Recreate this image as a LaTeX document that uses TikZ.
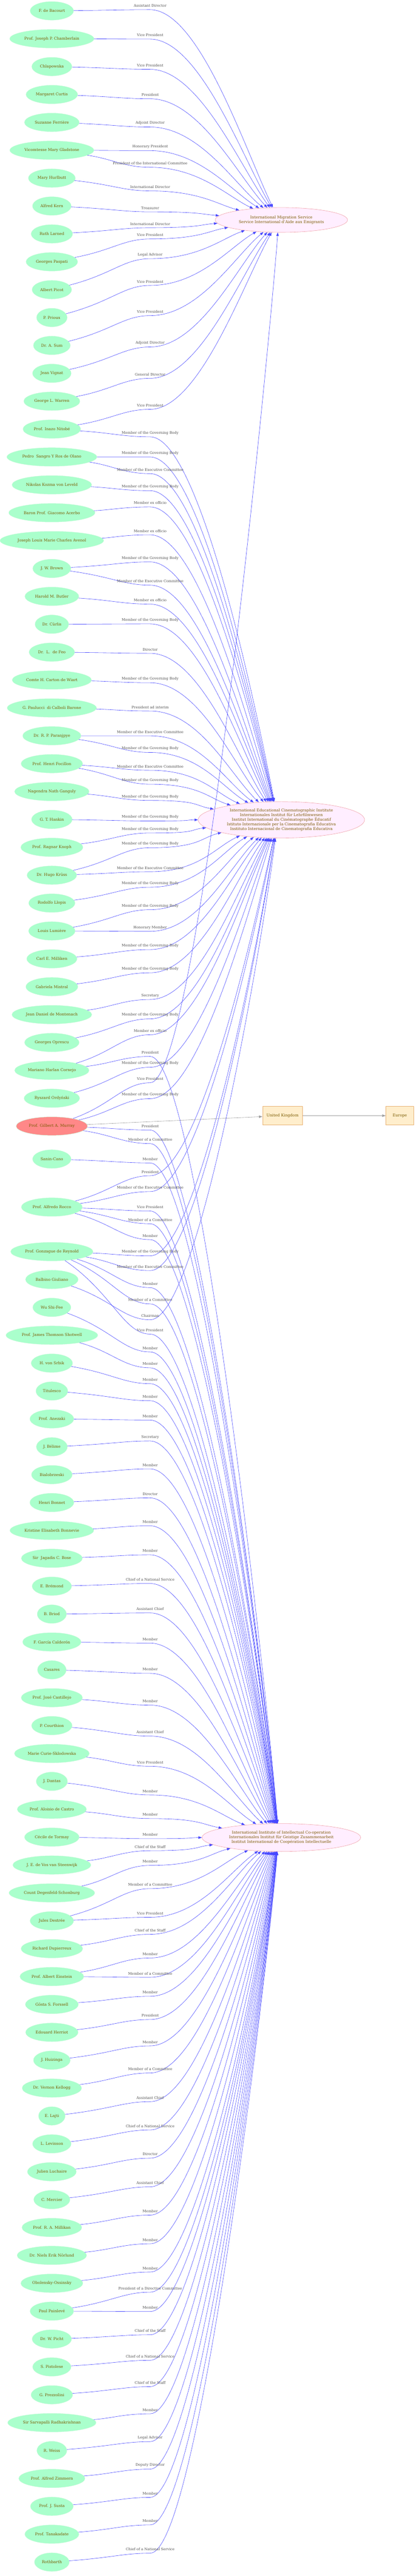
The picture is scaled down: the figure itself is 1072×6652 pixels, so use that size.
\documentclass[tikz,border=0pt]{standalone}
\usepackage{fontspec}
\setmainfont{DejaVu Serif}
\usetikzlibrary{arrows.meta,calc,shapes.geometric}
\definecolor{nodefill}{HTML}{AAFFCC}
\definecolor{nodeline}{HTML}{C4FAD8}
\definecolor{txt}{HTML}{7A5A00}
\definecolor{murr}{HTML}{FF8888}
\definecolor{tfill}{HTML}{FFEEFF}
\definecolor{tline}{HTML}{F0A0A8}
\definecolor{eblue}{HTML}{4848FF}
\definecolor{lblc}{HTML}{505050}
\definecolor{bfill}{HTML}{FFEECC}
\definecolor{bline}{HTML}{E8B070}
\tikzset{
 person/.style={ellipse, fill=nodefill, draw=nodeline, line width=0.6pt, text=txt,
   font=\fontsize{10}{12}\selectfont, inner xsep=6pt, inner ysep=2pt, minimum height=48pt},
 redp/.style={person, fill=murr},
 org/.style={ellipse, fill=tfill, draw=tline, line width=0.8pt, text=txt,
   font=\fontsize{10}{12}\selectfont, align=center, inner sep=0pt},
 place/.style={rectangle, fill=bfill, draw=bline, line width=0.9pt, text=txt,
   font=\fontsize{10}{12}\selectfont, minimum height=48pt, minimum width=72pt, inner xsep=10pt},
 relline/.style={draw=eblue, line width=0.8pt, -{Triangle[length=9pt,width=6.5pt]}},
 greyrel/.style={draw=gray!75, line width=0.8pt, -{Triangle[length=9pt,width=6.5pt]}},
 lbl/.style={text=lblc, font=\fontsize{9.2}{11}\selectfont, inner sep=0pt}
}
\newcommand\lMGB{Member of the Governing Body}
\newcommand\lMEC{Member of the Executive Committee}
\newcommand\lMEO{Member ex officio}
\newcommand\lMoaC{Member of a Committee}
\newcommand\lCNS{Chief of a National Service}
% #1 src, #2 src y, #3 label y, #4 target, #5 target y, #6 text
\newcommand\myrel[6]{%
  \pgfmathsetmacro\rWY{#3+10}%
  \pgfmathsetmacro\rMY{(#2+\rWY)/2}%
  \pgfmathsetmacro\rDY{\rWY-#5}%
  \pgfmathsetmacro\rFF{75*(1-exp(-abs(\rDY)/400))}%
  \pgfmathtruncatemacro\rANG{\rDY<0 ? 180-\rFF : 180+\rFF}%
  \pgfmathsetmacro\rANGB{\rDY<0 ? 180-1.15*\rFF : 180+1.15*\rFF}%
  \pgfmathsetmacro\rLL{min(260,40+0.22*abs(\rDY))}%
  \draw[relline] (#1) .. controls (290,\rMY) and (320,\rWY) .. (388,\rWY)
     .. controls (515,\rWY) and ($(#4.\rANG)+(\rANGB:\rLL pt)$) .. (#4.\rANG);
  \node[lbl] at (388,#3) {#6};
}
\begin{document}
\begin{tikzpicture}[x=1pt,y=-1pt]
\useasboundingbox (0,0) rectangle (1072,6652);
% targets
\node[org, minimum width=342pt, minimum height=64pt] (t1) at (727,568) {International Migration Service\\Service International d'Aide aux Emigrants};
\node[org, minimum width=430pt, minimum height=94pt] (t2) at (727,2117) {International Educational Cinematographic Institute\\Internationales Institut für Lehrfilmwesen\\Institut International du Cinématographe Éducatif\\Istituto Internazionale per la Cinematografia Educativa\\Instituto Internacional de Cinematografia Educativa};
\node[org, minimum width=410pt, minimum height=72pt] (t3) at (727,4745) {International Institute of Intellectual Co-operation\\Internationales Institut für Geistige Zusammenarbeit\\Institut International de Coopération Intellectuelle};
\node[place] (un) at (730,2881) {United Kingdom};
\node[place] (eu) at (1033,2881) {Europe};
% persons
\node[person] (n1) at (134,28) {F. de Bacourt};
\node[person] (n2) at (134,100) {Prof. Joseph P. Chamberlain};
\node[person] (n3) at (134,172) {Chlapowska};
\node[person] (n4) at (134,244) {Margaret Curtis};
\node[person] (n5) at (134,316) {Suzanne Ferrière};
\node[person] (n6) at (134,388) {Vicomtesse Mary Gladstone};
\node[person] (n7) at (134,460) {Mary Hurlbutt};
\node[person] (n8) at (134,532) {Alfred Kern};
\node[person] (n9) at (134,604) {Ruth Larned};
\node[person] (n10) at (134,676) {Georges Paspati};
\node[person] (n11) at (134,748) {Albert Picot};
\node[person] (n12) at (134,820) {P. Prioux};
\node[person] (n13) at (134,892) {Dr. A. Sum};
\node[person] (n14) at (134,964) {Jean Vignat};
\node[person] (n15) at (134,1036) {George L. Warren};
\node[person] (n16) at (134,1108) {Prof. Inazo Nitobé};
\node[person] (n17) at (134,1180) {Pedro\ \ Sangro Y Ros de Olano};
\node[person] (n18) at (134,1252) {Nikolas Kozma von Leveld};
\node[person] (n19) at (134,1324) {Baron Prof. Giacomo Acerbo};
\node[person] (n20) at (134,1396) {Joseph Louis Marie Charles Avenol};
\node[person] (n21) at (134,1468) {J. W. Brown};
\node[person] (n22) at (134,1540) {Harold M. Butler};
\node[person] (n23) at (134,1612) {Dr. Cürlis};
\node[person] (n24) at (134,1684) {Dr.\ \ L.\ \ de Feo};
\node[person] (n25) at (134,1756) {Comte H. Carton de Wiart};
\node[person] (n26) at (134,1828) {G. Paulucci\ \ di Calboli Barone};
\node[person] (n27) at (134,1900) {Dr. R. P. Paranjpye};
\node[person] (n28) at (134,1972) {Prof. Henri Focillon};
\node[person] (n29) at (134,2044) {Nagendra Nath Ganguly};
\node[person] (n30) at (134,2116) {G. T. Hankin};
\node[person] (n31) at (134,2188) {Prof. Ragnar Knoph};
\node[person] (n32) at (134,2260) {Dr. Hugo Krüss};
\node[person] (n33) at (134,2332) {Rodolfo Llopis};
\node[person] (n34) at (134,2404) {Louis Lumière};
\node[person] (n35) at (134,2476) {Carl E. Milliken};
\node[person] (n36) at (134,2548) {Gabriela Mistral};
\node[person] (n37) at (134,2620) {Jean Daniel de Montenach};
\node[person] (n38) at (134,2692) {Georges Oprescu};
\node[person] (n39) at (134,2764) {Mariano Harlan Cornejo};
\node[person] (n40) at (134,2836) {Ryszard Ordyński};
\node[redp] (n41) at (134,2908) {Prof. Gilbert A. Murray};
\node[person] (n42) at (134,2993) {Sanin-Cano};
\node[person] (n43) at (134,3117) {Prof. Alfredo Rocco};
\node[person] (n44) at (134,3232) {Prof. Gonzague de Reynold};
\node[person] (n45) at (134,3304) {Balbino Giuliano};
\node[person] (n46) at (134,3376) {Wu Shi-Fee};
\node[person] (n47) at (134,3448) {Prof. James Thomson Shotwell};
\node[person] (n48) at (134,3520) {H. von Srbik};
\node[person] (n49) at (134,3592) {Titulesco};
\node[person] (n50) at (134,3664) {Prof. Anezaki};
\node[person] (n51) at (134,3736) {J. Bélime};
\node[person] (n52) at (134,3808) {Bialobrzeski};
\node[person] (n53) at (134,3880) {Henri Bonnet};
\node[person] (n54) at (134,3952) {Kristine Elisabeth Bonnevie};
\node[person] (n55) at (134,4024) {Sir\ \ Jagadis C. Bose};
\node[person] (n56) at (134,4096) {E. Brémond};
\node[person] (n57) at (134,4168) {B. Briod};
\node[person] (n58) at (134,4240) {F. García Calderón};
\node[person] (n59) at (134,4312) {Casares};
\node[person] (n60) at (134,4384) {Prof. José Castillejo};
\node[person] (n61) at (134,4456) {P. Courthion};
\node[person] (n62) at (134,4528) {Marie Curie-Sklodowska};
\node[person] (n63) at (134,4600) {J. Dantas};
\node[person] (n64) at (134,4672) {Prof. Aloisio de Castro};
\node[person] (n65) at (134,4744) {Cécile de Tormay};
\node[person] (n66) at (134,4816) {J. E. de Vos van Steenwijk};
\node[person] (n67) at (134,4888) {Count Degenfeld-Schonburg};
\node[person] (n68) at (134,4960) {Jules Destrée};
\node[person] (n69) at (134,5032) {Richard Dupierreux};
\node[person] (n70) at (134,5104) {Prof. Albert Einstein};
\node[person] (n71) at (134,5176) {Gösta S. Forssell};
\node[person] (n72) at (134,5248) {Edouard Herriot};
\node[person] (n73) at (134,5320) {J. Huizinga};
\node[person] (n74) at (134,5392) {Dr. Vernon Kellogg};
\node[person] (n75) at (134,5464) {E. Lajti};
\node[person] (n76) at (134,5536) {L. Levinson};
\node[person] (n77) at (134,5608) {Julien Luchaire};
\node[person] (n78) at (134,5680) {C. Mercier};
\node[person] (n79) at (134,5752) {Prof. R. A. Millikan};
\node[person] (n80) at (134,5824) {Dr. Niels Erik Nörlund};
\node[person] (n81) at (134,5896) {Obolensky-Ossinsky};
\node[person] (n82) at (134,5968) {Paul Painlevé};
\node[person] (n83) at (134,6040) {Dr. W. Picht};
\node[person] (n84) at (134,6112) {S. Pistolese};
\node[person] (n85) at (134,6184) {G. Prezzolini};
\node[person] (n86) at (134,6256) {Sir Sarvapalli Radhakrishnan};
\node[person] (n87) at (134,6328) {R. Weiss};
\node[person] (n88) at (134,6400) {Prof. Alfred Zimmern};
\node[person] (n89) at (134,6472) {Prof. J. Susta};
\node[person] (n90) at (134,6544) {Prof. Tanakadate};
\node[person] (n91) at (134,6616) {Rothbarth};
% grey edges
\draw[greyrel] (n41) -- (un);
\draw[greyrel] (un) -- (eu);
% relations
\myrel{n1}{28}{15}{t1}{568}{Assistant Director}
\myrel{n2}{100}{91}{t1}{568}{Vice President}
\myrel{n3}{172}{169}{t1}{568}{Vice President}
\myrel{n4}{244}{245}{t1}{568}{President}
\myrel{n5}{316}{318}{t1}{568}{Adjoint Director}
\myrel{n6}{388}{379}{t1}{568}{Honorary President}
\myrel{n6}{388}{422}{t1}{568}{President of the International Committee}
\myrel{n7}{460}{483}{t1}{568}{International Director}
\myrel{n8}{532}{537}{t1}{568}{Treasurer}
\myrel{n9}{604}{578}{t1}{568}{International Director}
\myrel{n10}{676}{607}{t1}{568}{Vice President}
\myrel{n11}{748}{658}{t1}{568}{Legal Advisor}
\myrel{n12}{820}{727}{t1}{568}{Vice President}
\myrel{n13}{892}{805}{t1}{568}{Vice President}
\myrel{n14}{964}{886}{t1}{568}{Adjoint Director}
\myrel{n15}{1036}{967}{t1}{568}{General Director}
\myrel{n16}{1108}{1047}{t1}{568}{Vice President}
\myrel{n16}{1108}{1118}{t2}{2117}{\lMGB}
\myrel{n17}{1180}{1170}{t2}{2117}{\lMGB}
\myrel{n17}{1180}{1213}{t2}{2117}{\lMEC}
\myrel{n18}{1252}{1257}{t2}{2117}{\lMGB}
\myrel{n19}{1324}{1299}{t2}{2117}{\lMEO}
\myrel{n20}{1396}{1371}{t2}{2117}{\lMEO}
\myrel{n21}{1468}{1441}{t2}{2117}{\lMGB}
\myrel{n21}{1468}{1501}{t2}{2117}{\lMEC}
\myrel{n22}{1540}{1550}{t2}{2117}{\lMEO}
\myrel{n23}{1612}{1601}{t2}{2117}{\lMGB}
\myrel{n24}{1684}{1677}{t2}{2117}{Director}
\myrel{n25}{1756}{1753}{t2}{2117}{\lMGB}
\myrel{n26}{1828}{1826}{t2}{2117}{President ad interim}
\myrel{n27}{1900}{1890}{t2}{2117}{\lMEC}
\myrel{n27}{1900}{1933}{t2}{2117}{\lMGB}
\myrel{n28}{1972}{1979}{t2}{2117}{\lMEC}
\myrel{n28}{1972}{2015}{t2}{2117}{\lMGB}
\myrel{n29}{2044}{2057}{t2}{2117}{\lMGB}
\myrel{n30}{2116}{2110}{t2}{2117}{\lMGB}
\myrel{n31}{2188}{2141}{t2}{2117}{\lMGB}
\myrel{n32}{2260}{2179}{t2}{2117}{\lMGB}
\myrel{n32}{2260}{2241}{t2}{2117}{\lMEC}
\myrel{n33}{2332}{2281}{t2}{2117}{\lMGB}
\myrel{n34}{2404}{2339}{t2}{2117}{\lMGB}
\myrel{n34}{2404}{2395}{t2}{2117}{Honorary Member}
\myrel{n35}{2476}{2442}{t2}{2117}{\lMGB}
\myrel{n36}{2548}{2502}{t2}{2117}{\lMGB}
\myrel{n37}{2620}{2571}{t2}{2117}{Secretary}
\myrel{n38}{2692}{2621}{t2}{2117}{\lMGB}
\myrel{n39}{2764}{2662}{t2}{2117}{\lMEO}
\myrel{n39}{2764}{2718}{t3}{4745}{President}
\myrel{n40}{2836}{2746}{t2}{2117}{\lMGB}
\myrel{n41}{2908}{2786}{t1}{568}{Vice President}
\myrel{n41}{2908}{2827}{t2}{2117}{\lMGB}
\myrel{n41}{2908}{2908}{t3}{4745}{President}
\myrel{n41}{2908}{2943}{t3}{4745}{\lMoaC}
\myrel{n42}{2993}{2993}{t3}{4745}{Member}
\myrel{n43}{3117}{3026}{t2}{2117}{President}
\myrel{n43}{3117}{3067}{t2}{2117}{\lMEC}
\myrel{n43}{3117}{3117}{t3}{4745}{Vice President}
\myrel{n43}{3117}{3150}{t3}{4745}{\lMoaC}
\myrel{n43}{3117}{3191}{t3}{4745}{Member}
\myrel{n44}{3232}{3233}{t2}{2117}{\lMGB}
\myrel{n44}{3232}{3271}{t2}{2117}{\lMEC}
\myrel{n44}{3232}{3315}{t3}{4745}{Member}
\myrel{n44}{3232}{3357}{t3}{4745}{\lMoaC}
\myrel{n45}{3304}{3398}{t2}{2117}{Chairman}
\myrel{n44}{3232}{3435}{t3}{4745}{Vice President}
\myrel{n46}{3376}{3481}{t3}{4745}{Member}
\myrel{n47}{3448}{3522}{t3}{4745}{Member}
\myrel{n48}{3520}{3563}{t3}{4745}{Member}
\myrel{n49}{3592}{3607}{t3}{4745}{Member}
\myrel{n50}{3664}{3657}{t3}{4745}{Member}
\myrel{n51}{3736}{3711}{t3}{4745}{Secretary}
\myrel{n52}{3808}{3783}{t3}{4745}{Member}
\myrel{n53}{3880}{3858}{t3}{4745}{Director}
\myrel{n54}{3952}{3930}{t3}{4745}{Member}
\myrel{n55}{4024}{4005}{t3}{4745}{Member}
\myrel{n56}{4096}{4079}{t3}{4745}{\lCNS}
\myrel{n57}{4168}{4155}{t3}{4745}{Assistant Chief}
\myrel{n58}{4240}{4233}{t3}{4745}{Member}
\myrel{n59}{4312}{4311}{t3}{4745}{Member}
\myrel{n60}{4384}{4393}{t3}{4745}{Member}
\myrel{n61}{4456}{4473}{t3}{4745}{Assistant Chief}
\myrel{n62}{4528}{4551}{t3}{4745}{Vice President}
\myrel{n63}{4600}{4625}{t3}{4745}{Member}
\myrel{n64}{4672}{4686}{t3}{4745}{Member}
\myrel{n65}{4744}{4738}{t3}{4745}{Member}
\myrel{n66}{4816}{4769}{t3}{4745}{Chief of the Staff}
\myrel{n67}{4888}{4807}{t3}{4745}{Member}
\myrel{n68}{4960}{4867}{t3}{4745}{\lMoaC}
\myrel{n68}{4960}{4941}{t3}{4745}{Vice President}
\myrel{n69}{5032}{4985}{t3}{4745}{Chief of the Staff}
\myrel{n70}{5104}{5046}{t3}{4745}{Member}
\myrel{n70}{5104}{5096}{t3}{4745}{\lMoaC}
\myrel{n71}{5176}{5145}{t3}{4745}{Member}
\myrel{n72}{5248}{5205}{t3}{4745}{President}
\myrel{n73}{5320}{5273}{t3}{4745}{Member}
\myrel{n74}{5392}{5343}{t3}{4745}{\lMoaC}
\myrel{n75}{5464}{5417}{t3}{4745}{Assistant Chief}
\myrel{n76}{5536}{5490}{t3}{4745}{\lCNS}
\myrel{n77}{5608}{5563}{t3}{4745}{Director}
\myrel{n78}{5680}{5637}{t3}{4745}{Assistant Chief}
\myrel{n79}{5752}{5710}{t3}{4745}{Member}
\myrel{n80}{5824}{5784}{t3}{4745}{Member}
\myrel{n81}{5896}{5857}{t3}{4745}{Member}
\myrel{n82}{5968}{5909}{t3}{4745}{President of a Directive Committee}
\myrel{n82}{5968}{5959}{t3}{4745}{Member}
\myrel{n83}{6040}{6019}{t3}{4745}{Chief of the Staff}
\myrel{n84}{6112}{6085}{t3}{4745}{\lCNS}
\myrel{n85}{6184}{6153}{t3}{4745}{Chief of the Staff}
\myrel{n86}{6256}{6223}{t3}{4745}{Member}
\myrel{n87}{6328}{6295}{t3}{4745}{Legal Advisor}
\myrel{n88}{6400}{6366}{t3}{4745}{Deputy Director}
\myrel{n89}{6472}{6439}{t3}{4745}{Member}
\myrel{n90}{6544}{6510}{t3}{4745}{Member}
\myrel{n91}{6616}{6583}{t3}{4745}{\lCNS}
\end{tikzpicture}
\end{document}
